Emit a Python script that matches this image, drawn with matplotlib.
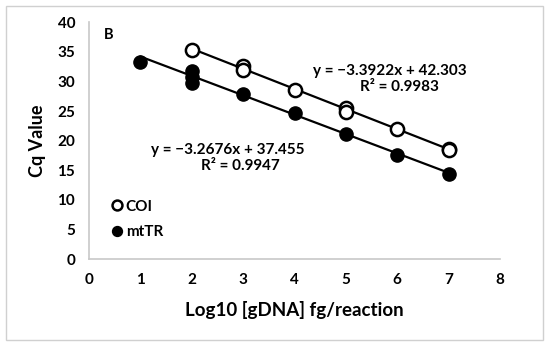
import matplotlib.pyplot as plt
from matplotlib.patches import Rectangle
import numpy as np

plt.rcParams['font.family'] = ['Lato', 'DejaVu Sans']
plt.rcParams['font.weight'] = 'bold'

# COI (open circles)
coi_x = [2, 3, 3, 4, 5, 5, 6, 7, 7]
coi_y = [35.3, 32.6, 31.9, 28.6, 25.5, 24.8, 21.9, 18.6, 18.4]
coi_fit = [-3.3922, 42.303]
coi_r2 = 0.9983

# mtTR (filled circles)
mt_x = [1, 2, 2, 2, 3, 4, 5, 6, 7]
mt_y = [33.3, 31.7, 30.7, 29.7, 27.9, 24.6, 21.2, 17.6, 14.4]
mt_fit = [-3.2676, 37.455]
mt_r2 = 0.9947

fig = plt.figure(figsize=(5.5, 3.46), dpi=100)
ax = fig.add_axes([0.162, 0.251, 0.747, 0.685])

# trendlines
xs = np.array([min(coi_x), max(coi_x)])
ax.plot(xs, np.polyval(coi_fit, xs), color='black', lw=1.6, zorder=1)
xs = np.array([min(mt_x), max(mt_x)])
ax.plot(xs, np.polyval(mt_fit, xs), color='black', lw=1.6, zorder=1)

ax.plot(coi_x, coi_y, 'o', ms=9.5, mfc='white', mec='black', mew=1.8, ls='none', label='COI', zorder=3)
ax.plot(mt_x, mt_y, 'o', ms=9.5, mfc='black', mec='black', ls='none', label='mtTR', zorder=3)

ax.text(5.85, 31.7, 'y = \u22123.3922x + 42.303', ha='center', va='center', fontsize=11, fontweight='bold')
ax.text(6.05, 29.0, 'R\u00b2 = 0.9983', ha='center', va='center', fontsize=11, fontweight='bold')
ax.text(2.7, 18.4, 'y = \u22123.2676x + 37.455', ha='center', va='center', fontsize=11, fontweight='bold')
ax.text(2.95, 15.8, 'R\u00b2 = 0.9947', ha='center', va='center', fontsize=11, fontweight='bold')
ax.text(0.28, 37.8, 'B', ha='left', va='center', fontsize=10.5, fontweight='bold')

ax.legend(loc='lower left', bbox_to_anchor=(0.0, 0.0), frameon=False, fontsize=11,
          handletextpad=0.1, labelspacing=0.75, borderaxespad=0.9, handlelength=1.0,
          markerscale=0.75)

ax.set_xlim(0, 8)
ax.set_ylim(0, 40)
ax.set_xticks(range(0, 9))
ax.set_yticks(range(0, 41, 5))
ax.tick_params(length=0, labelsize=11, pad=10)
for lab in ax.get_xticklabels() + ax.get_yticklabels():
    lab.set_fontweight('bold')
for s in ['top', 'right']:
    ax.spines[s].set_visible(False)
for s in ['left', 'bottom']:
    ax.spines[s].set_color('#c8c8c8')
    ax.spines[s].set_linewidth(1.2)

ax.set_xlabel('Log10 [gDNA] fg/reaction', fontsize=13.5, fontweight='bold', labelpad=10)
ax.set_ylabel('Cq Value', fontsize=13, fontweight='bold', labelpad=8)

fig.patches.append(Rectangle((0.011, 0.017), 0.976, 0.966, transform=fig.transFigure,
                             fill=False, edgecolor='#d0d0d0', lw=1))

fig.savefig('out.png', dpi=100)
